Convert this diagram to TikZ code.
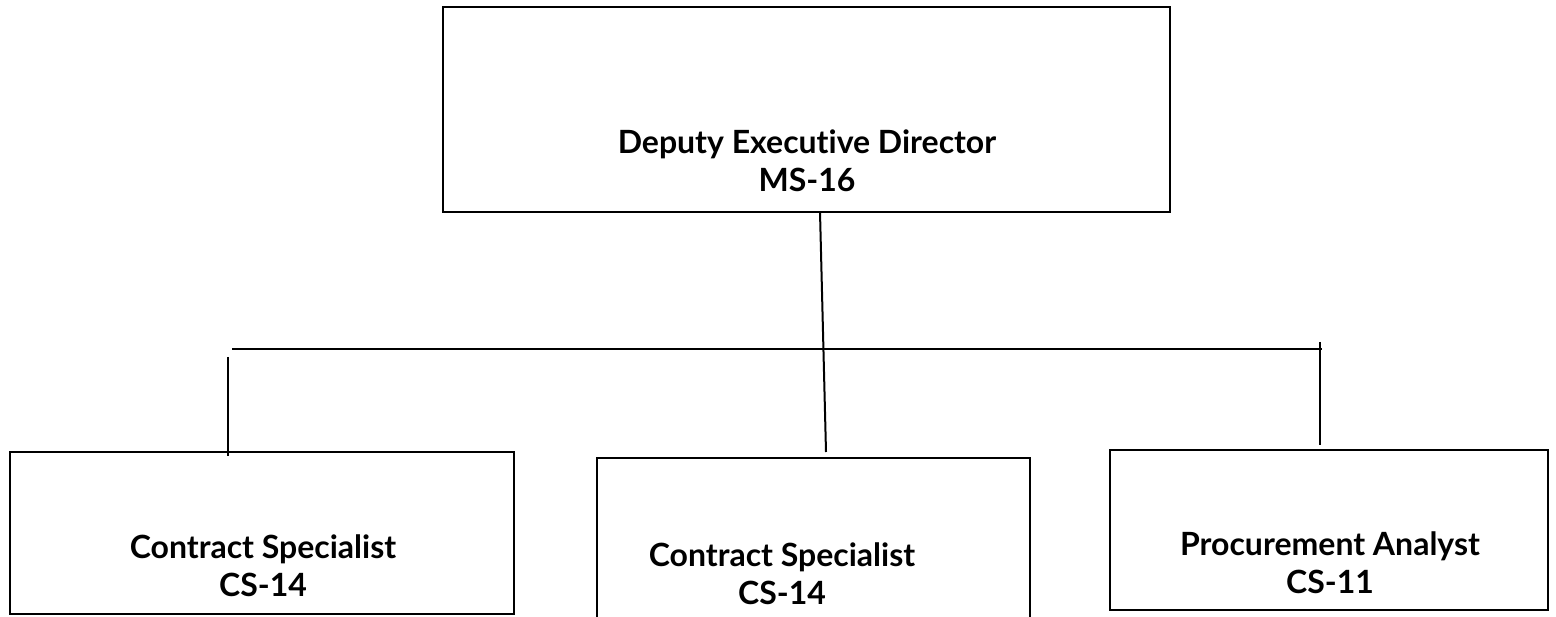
\documentclass[tikz,border=0pt]{standalone}
\usepackage{fontspec}
\setmainfont{Lato}[Ligatures={NoCommon,NoRare}]
\begin{document}
\begin{tikzpicture}[x=1pt,y=-1pt,
  box/.style={draw=black,line width=2pt,fill=none},
  lbl/.style={font=\bfseries\fontsize{32}{38}\selectfont,align=center,inner sep=0pt,anchor=center},
  conn/.style={draw=black,line width=2pt}]
\useasboundingbox (0,0) rectangle (1556,617);
% boxes
\node[box,minimum width=727pt,minimum height=205pt,inner sep=0pt] (top) at (806.5,109.5) {};
\node[box,minimum width=504pt,minimum height=162pt,inner sep=0pt] (left) at (262,533) {};
\node[box,minimum width=438pt,minimum height=160pt,inner sep=0pt] (right) at (1329,530) {};
\path[draw=black,line width=2pt] (597,630) -- (597,458) -- (1030,458) -- (1030,630);
\coordinate (midtop) at (813.5,458);
% labels
\node[lbl] (toptext) at (807,161) {Deputy Executive Director\\MS-16};
\node[lbl] (lefttext) at (263,566) {Contract Specialist\\CS-14};
\node[lbl] (midtext) at (782,574) {Contract Specialist\\CS-14};
\node[lbl] (righttext) at (1330,563) {Procurement Analyst\\CS-11};
% connectors
\coordinate (c1) at (820,212);
\coordinate (c2) at (826,452);
\coordinate (h1) at (232,349);
\coordinate (h2) at (1322,349);
\coordinate (l1) at (228,357);
\coordinate (l2) at (228,456);
\coordinate (r1) at (1320,342);
\coordinate (r2) at (1320,445);
\draw[conn] (c1) -- (c2);
\draw[conn] (h1) -- (h2);
\draw[conn] (l1) -- (l2);
\draw[conn] (r1) -- (r2);
\end{tikzpicture}
\end{document}
